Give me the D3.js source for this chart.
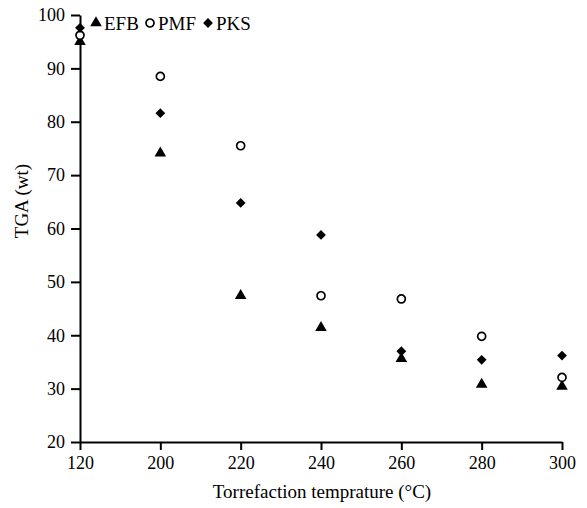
<!DOCTYPE html>
<html>
<head>
<meta charset="utf-8">
<script src="https://cdn.jsdelivr.net/npm/d3@7"></script>
<style>
  body { margin: 0; background: #fff; }
  text { font-family: "Liberation Serif", "Times New Roman", serif; fill: #000; }
</style>
</head>
<body>
<div class="chart"></div>
<script>
// data
var temps = ["120", "200", "220", "240", "260", "280", "300"];
var efb = [95.0, 74.1, 47.4, 41.4, 35.6, 30.8, 30.4];
var pmf = [96.2, 88.5, 75.5, 47.4, 46.8, 39.8, 32.1];
var pks = [97.6, 81.6, 64.8, 58.8, 37.0, 35.4, 36.2];
var yTicks = [20, 30, 40, 50, 60, 70, 80, 90, 100];
var seriesNames = ["EFB", "PMF", "PKS"];

var width = 587;
var height = 508;

var svg = d3
  .select(".chart")
  .append("svg")
  .attr("width", width)
  .attr("height", height);

var x = d3.scalePoint().domain(temps).range([80, 562]);
var y = d3.scaleLinear().domain([20, 100]).range([442, 15]);

// axes
var xAxis = svg
  .append("g")
  .attr("transform", "translate(0,442)")
  .call(d3.axisBottom(x).tickSize(8).tickSizeOuter(0).tickPadding(6));

var yAxis = svg
  .append("g")
  .attr("transform", "translate(80,0)")
  .call(d3.axisLeft(y).tickValues(yTicks).tickSize(9).tickSizeOuter(0).tickPadding(6));

[xAxis, yAxis].forEach(function (ax) {
  ax.select(".domain").attr("stroke", "#000").attr("stroke-width", 2);
  ax.selectAll(".tick line").attr("stroke", "#000").attr("stroke-width", 2);
  ax.selectAll(".tick text")
    .style("font-family", "'Liberation Serif', serif")
    .style("font-size", "18px")
    .attr("fill", "#000");
});

// axis titles
svg
  .append("text")
  .attr("x", 322)
  .attr("y", 498)
  .attr("text-anchor", "middle")
  .attr("font-size", 19)
  .text("Torrefaction temprature (°C)");

svg
  .append("text")
  .attr("transform", "translate(28,201) rotate(-90)")
  .attr("text-anchor", "middle")
  .attr("font-size", 19)
  .text("TGA (wt)");

// markers
var triangle = d3.symbol().type(d3.symbolTriangle).size(58);
var diamond = d3.symbol().type(d3.symbolSquare).size(48);

function drawMarker(g, name) {
  if (name === "EFB") {
    g.append("path").attr("d", triangle()).attr("fill", "#000");
  } else if (name === "PMF") {
    g.append("circle").attr("r", 4).attr("fill", "#fff")
      .attr("stroke", "#000").attr("stroke-width", 1.7);
  } else {
    g.append("path").attr("d", diamond()).attr("transform", "rotate(45)").attr("fill", "#000");
  }
}

var seriesData = [efb, pmf, pks];

seriesData.forEach(function (vals, si) {
  svg
    .append("g")
    .selectAll("g")
    .data(vals)
    .enter()
    .append("g")
    .attr("transform", function (d, i) {
      return "translate(" + x(temps[i]) + "," + y(d) + ")";
    })
    .each(function () {
      drawMarker(d3.select(this), seriesNames[si]);
    });
});

// legend
var legendX = [96, 150, 208];
var legend = svg
  .append("g")
  .selectAll("g")
  .data(seriesNames)
  .enter()
  .append("g")
  .attr("transform", function (d, i) {
    return "translate(" + legendX[i] + ",23)";
  });

legend.each(function (d) {
  drawMarker(d3.select(this), d);
});

legend
  .append("text")
  .attr("x", 8)
  .attr("y", 7)
  .attr("font-size", 19)
  .text(function (d) { return d; });
</script>
</body>
</html>
